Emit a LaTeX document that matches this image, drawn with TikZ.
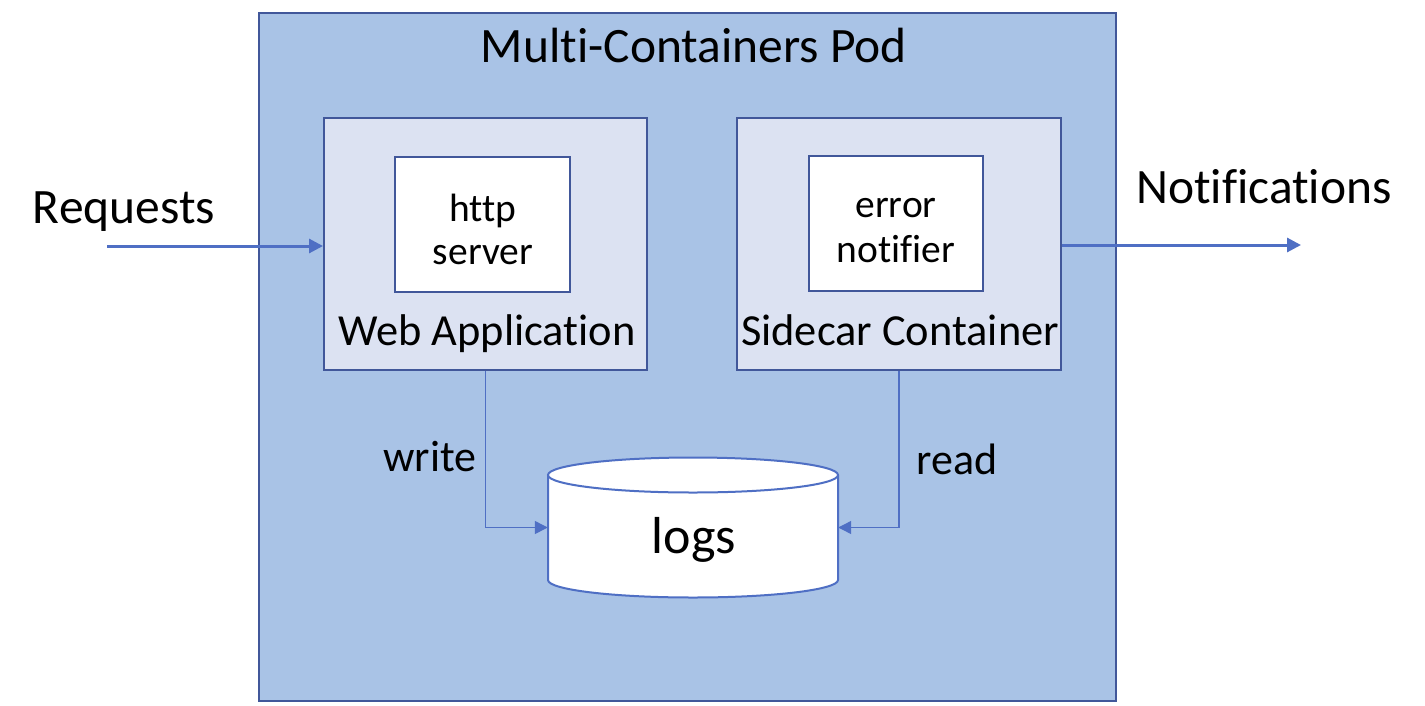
\documentclass[tikz,border=0pt]{standalone}
\usepackage{fontspec}
\setmainfont[Ligatures=NoCommon]{Carlito}
\usetikzlibrary{arrows.meta}
\definecolor{podfill}{HTML}{A9C3E6}
\definecolor{podline}{HTML}{41579A}
\definecolor{boxfill}{HTML}{DCE2F2}
\definecolor{arrowc}{HTML}{4F6FC4}
\tikzset{
  podbox/.style={draw=podline, fill=podfill, line width=2.5pt},
  appbox/.style={draw=podline, fill=boxfill, line width=2pt},
  innerbox/.style={draw=podline, fill=white, line width=2pt},
  cylline/.style={draw=arrowc, line width=2pt},
  bigarrow/.style={draw=arrowc, line width=3pt, -{Triangle[length=14pt,width=14pt]}},
  thinarrow/.style={draw=arrowc, line width=1.2pt, -{Triangle[length=13pt,width=13pt]}},
  txt/.style={inner sep=0pt, anchor=base},
}
\begin{document}
\begin{tikzpicture}[x=1pt,y=-1pt]
\useasboundingbox (0,0) rectangle (1425,705);
\fill[white] (0,0) rectangle (1425,705);
% pod
\draw[podbox] (259,13) rectangle (1116,701);
\node[txt, font=\fontsize{49.5}{58}\selectfont] (title) at (694,62) {Multi-Containers Pod};
% boxes
\node[appbox, minimum width=323pt, minimum height=252pt, inner sep=0pt] (web) at (485.5,244) {};
\node[appbox, minimum width=324pt, minimum height=252pt, inner sep=0pt] (side) at (899,244) {};
\node[innerbox, minimum width=175pt, minimum height=135pt, inner sep=0pt] (http) at (482.5,224.5) {};
\node[innerbox, minimum width=174pt, minimum height=135pt, inner sep=0pt] (err) at (896,223.5) {};
\node[txt, font=\fontsize{39.5}{46}\selectfont] (t1) at (483,221) {http};
\node[txt, font=\fontsize{39.5}{46}\selectfont] (t2) at (483,264) {server};
\node[txt, font=\fontsize{39.5}{46}\selectfont] (t3) at (896,217) {error};
\node[txt, font=\fontsize{39.5}{46}\selectfont] (t4) at (896,262) {notifier};
\node[txt, font=\fontsize{44.4}{52}\selectfont] (webl) at (487,345) {Web Application};
\node[txt, font=\fontsize{44.4}{52}\selectfont] (sidel) at (900,345) {Sidecar Container};
% logs cylinder
\node[minimum width=290pt, minimum height=139pt, inner sep=0pt] (logs) at (693,527.5) {};
\path[fill=white] (548,475) -- (548,580) arc[start angle=180, end angle=360, x radius=145pt, y radius=17.5pt] -- (838,475) -- cycle;
\draw[cylline] (548,475) -- (548,580) arc[start angle=180, end angle=360, x radius=145pt, y radius=17.5pt] -- (838,475);
\draw[cylline, fill=white] (693,475) ellipse [x radius=145pt, y radius=17.5pt];
\node[txt, font=\fontsize{52}{60}\selectfont] (logsl) at (694,553) {logs};
% external labels
\node[txt, font=\fontsize{49.5}{58}\selectfont] (req) at (124,223) {Requests};
\node[txt, font=\fontsize{49.5}{58}\selectfont] (notif) at (1264,203) {Notifications};
\node[txt, font=\fontsize{44}{52}\selectfont] (wr) at (430,471) {write};
\node[txt, font=\fontsize{44}{52}\selectfont] (rd) at (957,474) {read};
% connectors
\coordinate (reqstart) at (107,246);
\coordinate (notifend) at (1301,245);
\draw[bigarrow] (reqstart) -- (reqstart -| web.west);
\draw[bigarrow] (side.east |- notifend) -- (notifend);
\draw[thinarrow] (web.south) |- (logs.west);
\draw[thinarrow] (side.south) |- (logs.east);
\end{tikzpicture}
\end{document}
